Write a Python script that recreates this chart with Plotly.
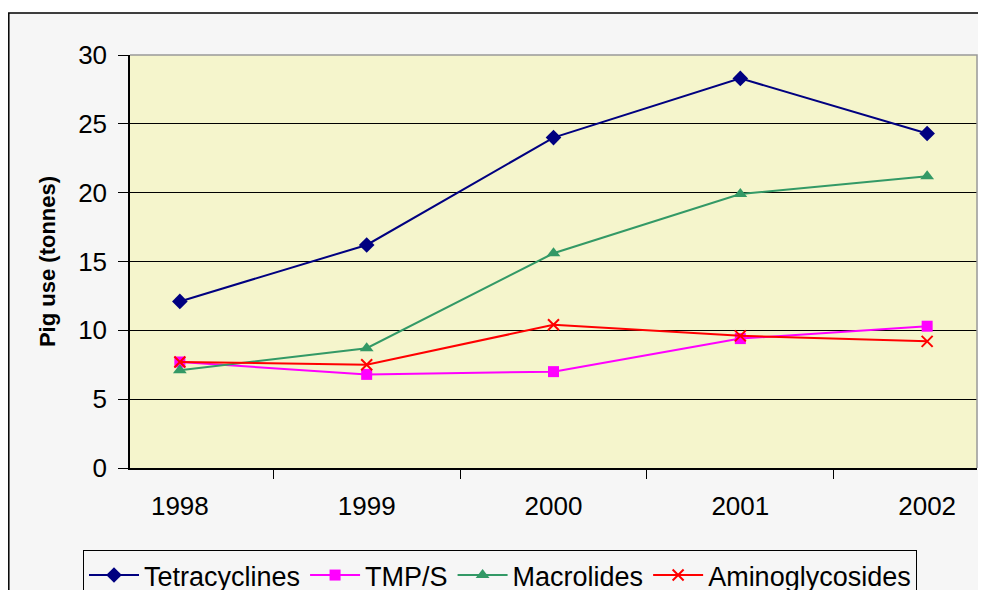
import plotly.graph_objects as go

years = ["1998", "1999", "2000", "2001", "2002"]
tetracyclines = [12.1, 16.2, 24.0, 28.3, 24.3]
tmp_s = [7.7, 6.8, 7.0, 9.4, 10.3]
macrolides = [7.1, 8.7, 15.6, 19.9, 21.2]
aminoglycosides = [7.7, 7.5, 10.4, 9.6, 9.2]

fig = go.Figure()
fig.add_trace(go.Scatter(x=years, y=tetracyclines, name="Tetracyclines", mode="lines+markers",
                         line=dict(color="#000080", width=2),
                         marker=dict(symbol="diamond", size=12, color="#000080")))
fig.add_trace(go.Scatter(x=years, y=tmp_s, name="TMP/S", mode="lines+markers",
                         line=dict(color="#ff00ff", width=2),
                         marker=dict(symbol="square", size=11, color="#ff00ff")))
fig.add_trace(go.Scatter(x=years, y=macrolides, name="Macrolides", mode="lines+markers",
                         line=dict(color="#339966", width=2),
                         marker=dict(symbol="triangle-up", size=12, color="#339966")))
fig.add_trace(go.Scatter(x=years, y=aminoglycosides, name="Aminoglycosides", mode="lines+markers",
                         line=dict(color="#ff0000", width=2),
                         marker=dict(symbol="x-thin-open", size=11, color="#ff0000",
                                     line=dict(color="#ff0000", width=2))))

# page body adds an 8px offset; margins below are chosen so the plot area lands at
# screen x 130..977, y 55..468
L, T, R, B = 122, 47, 17, 130
W = 986 - L - R
H = 590 - T - B

fig.update_layout(
    width=986, height=590,
    margin=dict(l=L, r=R, t=T, b=B, autoexpand=False),
    paper_bgcolor="#f6f6f6",
    plot_bgcolor="#f5f5cc",
    font=dict(family="Liberation Sans, Arial, sans-serif", size=26, color="#000000"),
    showlegend=True,
    legend=dict(orientation="h", x=(500 - 130) / W, xanchor="center",
                y=-(550 - 468) / H, yanchor="top",
                bordercolor="#000000", borderwidth=1, bgcolor="#f6f6f6",
                font=dict(size=27), itemwidth=50, tracegroupgap=0),
)
fig.update_xaxes(type="category", showgrid=False, showline=True, linecolor="#000000", linewidth=1.5,
                 ticks="outside", tickson="boundaries", ticklen=9, tickcolor="#000000",
                 tickfont=dict(size=26), ticklabelstandoff=14, zeroline=False)
fig.update_yaxes(range=[0, 30], dtick=5, showgrid=True, gridcolor="#000000", gridwidth=1,
                 showline=True, linecolor="#000000", linewidth=1.5,
                 ticks="outside", ticklen=10, tickcolor="#000000", tickfont=dict(size=26),
                 ticklabelstandoff=6,
                 title=dict(text="<b>Pig use (tonnes)</b>", font=dict(size=22), standoff=16),
                 zeroline=False)

# plot-area top/right border (gray)
fig.add_shape(type="path", xref="paper", yref="paper",
              path="M 0,1 L 1,1 L 1,0", line=dict(color="#999999", width=1.5), layer="above")
# white strip above the outer chart border
top_border = (460 - 5) / H
fig.add_shape(type="rect", xref="paper", yref="paper",
              x0=-0.2, x1=1.05, y0=top_border, y1=1.3,
              fillcolor="#ffffff", line=dict(width=0), layer="below")
# outer chart border (top and left)
left_border = (0.8 - L) / W
fig.add_shape(type="path", xref="paper", yref="paper",
              path=f"M 1.05,{top_border} L {left_border},{top_border} L {left_border},-0.4",
              line=dict(color="#000000", width=1.5), layer="below")

fig.write_html("out.html")
